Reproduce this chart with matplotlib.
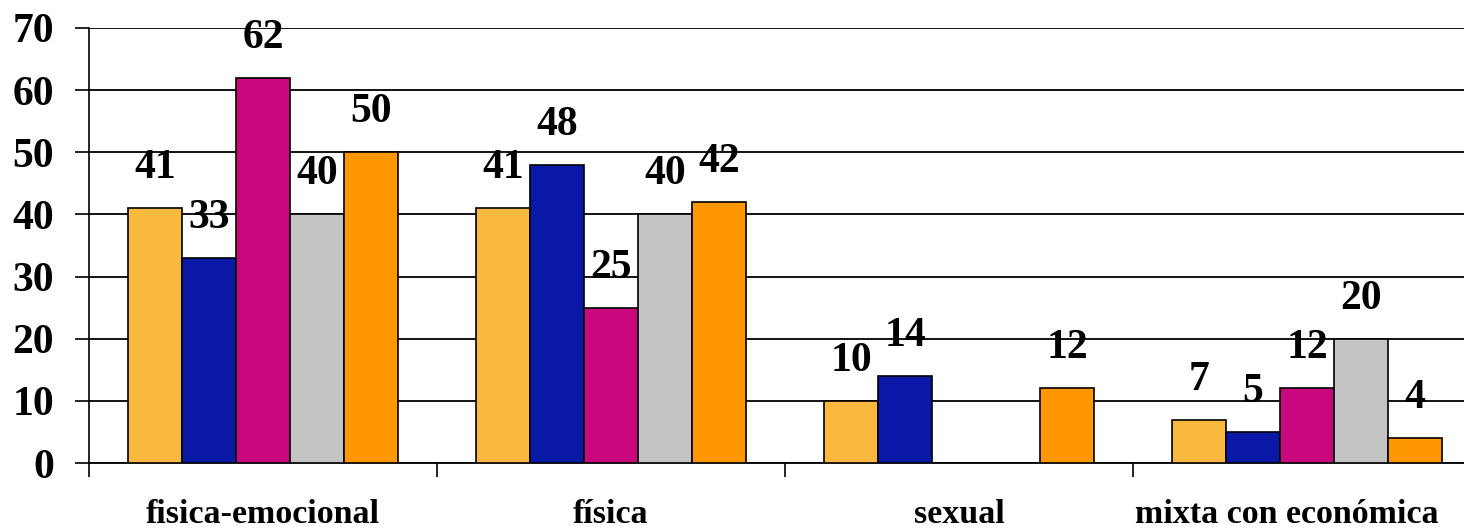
import matplotlib
matplotlib.use("Agg")
import matplotlib.pyplot as plt
import matplotlib.transforms as mtrans
import numpy as np

categories = ["fisica-emocional", "física", "sexual", "mixta con económica"]
series_1 = [41, 41, 10, 7]
series_2 = [33, 48, 14, 5]
series_3 = [62, 25, 0, 12]
series_4 = [40, 40, 0, 20]
series_5 = [50, 42, 12, 4]
y_ticks = [0, 10, 20, 30, 40, 50, 60, 70]

series = [series_1, series_2, series_3, series_4, series_5]
colors = ["#F8B93E", "#0A18A8", "#C8087C", "#C4C4C4", "#FF9800"]

plt.rcParams["font.family"] = ["Liberation Serif", "DejaVu Serif"]
plt.rcParams["font.weight"] = "bold"

fig = plt.figure(figsize=(14.64, 5.31), dpi=100)
ax = fig.add_axes([89 / 1464, (531 - 463) / 531, (1481 - 89) / 1464, (463 - 28) / 531])

x = np.arange(len(categories))
w = 54 / 348
n = len(series)
for i, (vals, c) in enumerate(zip(series, colors)):
    xs = x + (i - (n - 1) / 2) * w
    ax.bar(xs, vals, width=w, color=c, edgecolor="black", linewidth=1.2, zorder=3)
    for xi, v in zip(xs, vals):
        if v > 0:
            ax.annotate(str(v), (xi, v), xytext=(0, 30), textcoords="offset pixels",
                        ha="center", va="baseline", fontsize=30, fontweight="bold",
                        zorder=5)

ax.set_xlim(-0.5, len(categories) - 0.5)
ax.set_ylim(0, 70)
ax.set_yticks(y_ticks)
ax.set_yticklabels([str(t) for t in y_ticks], fontsize=30, fontweight="bold")
ax.yaxis.grid(True, color="black", linewidth=1.3, zorder=0)
ax.set_axisbelow(True)

ax.set_xticks(np.arange(-0.5, len(categories) + 0.5, 1.0))
ax.set_xticklabels([])
ax.set_xticks(x, minor=True)
ax.set_xticklabels(categories, minor=True, fontsize=24.5, fontweight="bold")
ax.tick_params(axis="x", which="major", direction="out", length=10, width=1.2, color="black")
ax.tick_params(axis="x", which="minor", length=0, pad=26)
ax.tick_params(axis="y", direction="out", length=10, width=1.2, pad=15)

last = ax.get_xticklabels(minor=True)[-1]
last.set_transform(last.get_transform() + mtrans.ScaledTranslation(-0.2, 0, fig.dpi_scale_trans))

for s in ["top", "right"]:
    ax.spines[s].set_visible(False)
ax.spines["left"].set_linewidth(1.2)
ax.spines["bottom"].set_linewidth(1.3)

fig.savefig("out.png", dpi=100)
